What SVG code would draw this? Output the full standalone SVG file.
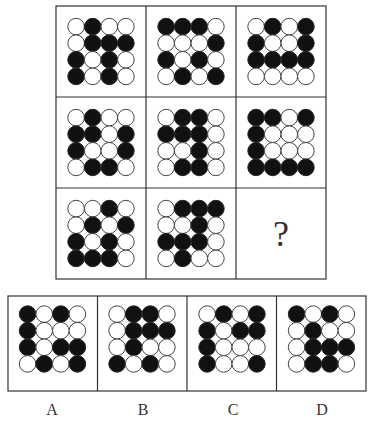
<svg xmlns="http://www.w3.org/2000/svg" xmlns:xlink="http://www.w3.org/1999/xlink" width="369" height="426" viewBox="0 0 369 426">
<style>
.box{fill:none;stroke:#333;stroke-width:1.2}
.w{fill:#fff;stroke:#444;stroke-width:1}
.b{fill:#111;stroke:#222;stroke-width:1}
.lbl{font-family:"Liberation Serif",serif;font-size:16px;fill:#333;text-anchor:middle}
.q{font-family:"Liberation Serif",serif;font-size:36px;fill:#333;text-anchor:middle}
</style>
<defs>
<circle id="W" r="8.3" class="w"/>
<circle id="B" r="8.3" class="b"/>
</defs>
<rect width="369" height="426" fill="#fff"/>
<g id="grid">
<rect class="box" x="56" y="6" width="270" height="273"/>
<line class="box" x1="146" y1="6" x2="146" y2="279"/>
<line class="box" x1="236" y1="6" x2="236" y2="279"/>
<line class="box" x1="56" y1="97" x2="326" y2="97"/>
<line class="box" x1="56" y1="188" x2="326" y2="188"/>
</g>
<g id="cell11" transform="translate(101,51.5)">
<use href="#W" x="-24.9" y="-24.9"/><use href="#B" x="-8.3" y="-24.9"/><use href="#W" x="8.3" y="-24.9"/><use href="#W" x="24.9" y="-24.9"/>
<use href="#W" x="-24.9" y="-8.3"/><use href="#B" x="-8.3" y="-8.3"/><use href="#B" x="8.3" y="-8.3"/><use href="#B" x="24.9" y="-8.3"/>
<use href="#B" x="-24.9" y="8.3"/><use href="#W" x="-8.3" y="8.3"/><use href="#B" x="8.3" y="8.3"/><use href="#W" x="24.9" y="8.3"/>
<use href="#B" x="-24.9" y="24.9"/><use href="#W" x="-8.3" y="24.9"/><use href="#B" x="8.3" y="24.9"/><use href="#W" x="24.9" y="24.9"/>
</g>
<g id="cell12" transform="translate(191,51.5)">
<use href="#B" x="-24.9" y="-24.9"/><use href="#B" x="-8.3" y="-24.9"/><use href="#B" x="8.3" y="-24.9"/><use href="#W" x="24.9" y="-24.9"/>
<use href="#W" x="-24.9" y="-8.3"/><use href="#W" x="-8.3" y="-8.3"/><use href="#W" x="8.3" y="-8.3"/><use href="#B" x="24.9" y="-8.3"/>
<use href="#B" x="-24.9" y="8.3"/><use href="#W" x="-8.3" y="8.3"/><use href="#B" x="8.3" y="8.3"/><use href="#W" x="24.9" y="8.3"/>
<use href="#W" x="-24.9" y="24.9"/><use href="#B" x="-8.3" y="24.9"/><use href="#W" x="8.3" y="24.9"/><use href="#B" x="24.9" y="24.9"/>
</g>
<g id="cell13" transform="translate(281,51.5)">
<use href="#W" x="-24.9" y="-24.9"/><use href="#B" x="-8.3" y="-24.9"/><use href="#W" x="8.3" y="-24.9"/><use href="#B" x="24.9" y="-24.9"/>
<use href="#B" x="-24.9" y="-8.3"/><use href="#W" x="-8.3" y="-8.3"/><use href="#W" x="8.3" y="-8.3"/><use href="#B" x="24.9" y="-8.3"/>
<use href="#B" x="-24.9" y="8.3"/><use href="#B" x="-8.3" y="8.3"/><use href="#B" x="8.3" y="8.3"/><use href="#B" x="24.9" y="8.3"/>
<use href="#W" x="-24.9" y="24.9"/><use href="#W" x="-8.3" y="24.9"/><use href="#W" x="8.3" y="24.9"/><use href="#W" x="24.9" y="24.9"/>
</g>
<g id="cell21" transform="translate(101,142.5)">
<use href="#W" x="-24.9" y="-24.9"/><use href="#B" x="-8.3" y="-24.9"/><use href="#W" x="8.3" y="-24.9"/><use href="#W" x="24.9" y="-24.9"/>
<use href="#B" x="-24.9" y="-8.3"/><use href="#B" x="-8.3" y="-8.3"/><use href="#W" x="8.3" y="-8.3"/><use href="#B" x="24.9" y="-8.3"/>
<use href="#B" x="-24.9" y="8.3"/><use href="#W" x="-8.3" y="8.3"/><use href="#W" x="8.3" y="8.3"/><use href="#B" x="24.9" y="8.3"/>
<use href="#W" x="-24.9" y="24.9"/><use href="#B" x="-8.3" y="24.9"/><use href="#B" x="8.3" y="24.9"/><use href="#W" x="24.9" y="24.9"/>
</g>
<g id="cell22" transform="translate(191,142.5)">
<use href="#W" x="-24.9" y="-24.9"/><use href="#B" x="-8.3" y="-24.9"/><use href="#B" x="8.3" y="-24.9"/><use href="#W" x="24.9" y="-24.9"/>
<use href="#B" x="-24.9" y="-8.3"/><use href="#B" x="-8.3" y="-8.3"/><use href="#B" x="8.3" y="-8.3"/><use href="#W" x="24.9" y="-8.3"/>
<use href="#W" x="-24.9" y="8.3"/><use href="#W" x="-8.3" y="8.3"/><use href="#B" x="8.3" y="8.3"/><use href="#W" x="24.9" y="8.3"/>
<use href="#W" x="-24.9" y="24.9"/><use href="#B" x="-8.3" y="24.9"/><use href="#B" x="8.3" y="24.9"/><use href="#W" x="24.9" y="24.9"/>
</g>
<g id="cell23" transform="translate(281,142.5)">
<use href="#B" x="-24.9" y="-24.9"/><use href="#B" x="-8.3" y="-24.9"/><use href="#W" x="8.3" y="-24.9"/><use href="#B" x="24.9" y="-24.9"/>
<use href="#B" x="-24.9" y="-8.3"/><use href="#W" x="-8.3" y="-8.3"/><use href="#W" x="8.3" y="-8.3"/><use href="#W" x="24.9" y="-8.3"/>
<use href="#B" x="-24.9" y="8.3"/><use href="#W" x="-8.3" y="8.3"/><use href="#W" x="8.3" y="8.3"/><use href="#W" x="24.9" y="8.3"/>
<use href="#B" x="-24.9" y="24.9"/><use href="#B" x="-8.3" y="24.9"/><use href="#B" x="8.3" y="24.9"/><use href="#B" x="24.9" y="24.9"/>
</g>
<g id="cell31" transform="translate(101,233.5)">
<use href="#W" x="-24.9" y="-24.9"/><use href="#W" x="-8.3" y="-24.9"/><use href="#B" x="8.3" y="-24.9"/><use href="#W" x="24.9" y="-24.9"/>
<use href="#W" x="-24.9" y="-8.3"/><use href="#B" x="-8.3" y="-8.3"/><use href="#W" x="8.3" y="-8.3"/><use href="#B" x="24.9" y="-8.3"/>
<use href="#B" x="-24.9" y="8.3"/><use href="#W" x="-8.3" y="8.3"/><use href="#B" x="8.3" y="8.3"/><use href="#W" x="24.9" y="8.3"/>
<use href="#B" x="-24.9" y="24.9"/><use href="#B" x="-8.3" y="24.9"/><use href="#B" x="8.3" y="24.9"/><use href="#W" x="24.9" y="24.9"/>
</g>
<g id="cell32" transform="translate(191,233.5)">
<use href="#W" x="-24.9" y="-24.9"/><use href="#B" x="-8.3" y="-24.9"/><use href="#B" x="8.3" y="-24.9"/><use href="#B" x="24.9" y="-24.9"/>
<use href="#W" x="-24.9" y="-8.3"/><use href="#W" x="-8.3" y="-8.3"/><use href="#B" x="8.3" y="-8.3"/><use href="#W" x="24.9" y="-8.3"/>
<use href="#B" x="-24.9" y="8.3"/><use href="#B" x="-8.3" y="8.3"/><use href="#B" x="8.3" y="8.3"/><use href="#W" x="24.9" y="8.3"/>
<use href="#W" x="-24.9" y="24.9"/><use href="#B" x="-8.3" y="24.9"/><use href="#W" x="8.3" y="24.9"/><use href="#W" x="24.9" y="24.9"/>
</g>
<g id="cell33">
<text class="q" x="281" y="246">?</text>
</g>
<g id="options">
<rect class="box" x="8" y="296" width="358" height="95"/>
<line class="box" x1="97.5" y1="296" x2="97.5" y2="391"/>
<line class="box" x1="187" y1="296" x2="187" y2="391"/>
<line class="box" x1="276.5" y1="296" x2="276.5" y2="391"/>
</g>
<g id="optA" transform="translate(52.5,339)">
<use href="#B" x="-24.9" y="-24.9"/><use href="#W" x="-8.3" y="-24.9"/><use href="#B" x="8.3" y="-24.9"/><use href="#W" x="24.9" y="-24.9"/>
<use href="#B" x="-24.9" y="-8.3"/><use href="#W" x="-8.3" y="-8.3"/><use href="#W" x="8.3" y="-8.3"/><use href="#W" x="24.9" y="-8.3"/>
<use href="#B" x="-24.9" y="8.3"/><use href="#W" x="-8.3" y="8.3"/><use href="#B" x="8.3" y="8.3"/><use href="#B" x="24.9" y="8.3"/>
<use href="#W" x="-24.9" y="24.9"/><use href="#B" x="-8.3" y="24.9"/><use href="#W" x="8.3" y="24.9"/><use href="#B" x="24.9" y="24.9"/>
</g>
<g id="optB" transform="translate(142,339)">
<use href="#W" x="-24.9" y="-24.9"/><use href="#B" x="-8.3" y="-24.9"/><use href="#B" x="8.3" y="-24.9"/><use href="#W" x="24.9" y="-24.9"/>
<use href="#W" x="-24.9" y="-8.3"/><use href="#B" x="-8.3" y="-8.3"/><use href="#B" x="8.3" y="-8.3"/><use href="#B" x="24.9" y="-8.3"/>
<use href="#W" x="-24.9" y="8.3"/><use href="#B" x="-8.3" y="8.3"/><use href="#W" x="8.3" y="8.3"/><use href="#W" x="24.9" y="8.3"/>
<use href="#B" x="-24.9" y="24.9"/><use href="#W" x="-8.3" y="24.9"/><use href="#B" x="8.3" y="24.9"/><use href="#W" x="24.9" y="24.9"/>
</g>
<g id="optC" transform="translate(232,339)">
<use href="#W" x="-24.9" y="-24.9"/><use href="#B" x="-8.3" y="-24.9"/><use href="#W" x="8.3" y="-24.9"/><use href="#B" x="24.9" y="-24.9"/>
<use href="#B" x="-24.9" y="-8.3"/><use href="#W" x="-8.3" y="-8.3"/><use href="#B" x="8.3" y="-8.3"/><use href="#B" x="24.9" y="-8.3"/>
<use href="#B" x="-24.9" y="8.3"/><use href="#W" x="-8.3" y="8.3"/><use href="#W" x="8.3" y="8.3"/><use href="#W" x="24.9" y="8.3"/>
<use href="#B" x="-24.9" y="24.9"/><use href="#W" x="-8.3" y="24.9"/><use href="#W" x="8.3" y="24.9"/><use href="#B" x="24.9" y="24.9"/>
</g>
<g id="optD" transform="translate(321.5,339)">
<use href="#B" x="-24.9" y="-24.9"/><use href="#W" x="-8.3" y="-24.9"/><use href="#B" x="8.3" y="-24.9"/><use href="#W" x="24.9" y="-24.9"/>
<use href="#W" x="-24.9" y="-8.3"/><use href="#B" x="-8.3" y="-8.3"/><use href="#W" x="8.3" y="-8.3"/><use href="#W" x="24.9" y="-8.3"/>
<use href="#W" x="-24.9" y="8.3"/><use href="#B" x="-8.3" y="8.3"/><use href="#B" x="8.3" y="8.3"/><use href="#B" x="24.9" y="8.3"/>
<use href="#W" x="-24.9" y="24.9"/><use href="#B" x="-8.3" y="24.9"/><use href="#B" x="8.3" y="24.9"/><use href="#W" x="24.9" y="24.9"/>
</g>
<g id="labels">
<text class="lbl" x="52" y="415">A</text>
<text class="lbl" x="143" y="415">B</text>
<text class="lbl" x="233" y="415">C</text>
<text class="lbl" x="322" y="415">D</text>
</g>
</svg>
